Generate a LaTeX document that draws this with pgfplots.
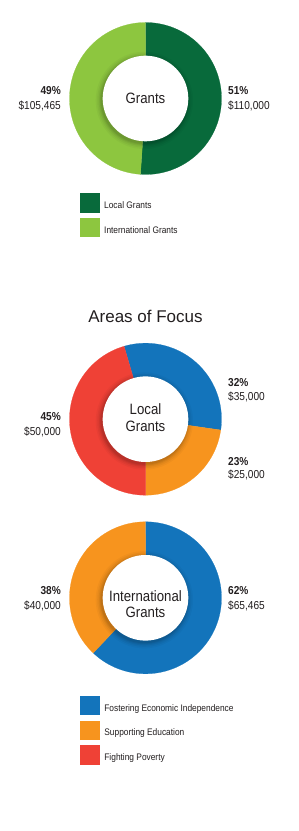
\documentclass[border=0pt]{standalone}
\usepackage{pgfplots}
\pgfplotsset{compat=1.18}
\usepackage{fontspec}
\setmainfont{Liberation Sans}[FakeStretch=0.88]
\newfontfamily\titlefont{Liberation Sans}

\definecolor{dgreen}{RGB}{8,106,59}
\definecolor{lgreen}{RGB}{141,198,63}
\definecolor{fblue}{RGB}{19,116,187}
\definecolor{forange}{RGB}{247,148,30}
\definecolor{fred}{RGB}{239,65,54}
\definecolor{txt}{RGB}{35,31,32}

% data (dollars)
\def\vLocal{110000}\def\vIntl{105465}
\def\lFost{35000}\def\lSupp{25000}\def\lFight{50000}
\def\iFost{65465}\def\iSupp{40000}

% angles, clockwise from the top
\edef\aOne{\fpeval{360*\vLocal/(\vLocal+\vIntl)}}
\edef\bSuppStart{\fpeval{180-360*\lSupp/(\lFost+\lSupp+\lFight)}}
\edef\bFostStart{\fpeval{\bSuppStart-360*\lFost/(\lFost+\lSupp+\lFight)}}
\edef\bFightEnd{\fpeval{\bFostStart+360}}
\edef\cOne{\fpeval{360*\iFost/(\iFost+\iSupp)}}

\newcommand{\slice}[3]{\addplot[fill=#1, draw=#1, line width=0.2pt, domain=#2:#3, samples=120, variable=\t] ({sin(t)},{cos(t)}) -- (axis cs:0,0) -- cycle;}
\newcommand{\ring}[2]{\addplot[forget plot, fill=black, fill opacity=#2, draw=none, domain=0:360, samples=150, variable=\t] ({-0.015+#1*sin(t)},{-0.025+#1*cos(t)}) -- cycle;}
\newcommand{\hole}{%
  \ring{0.64}{0.03}\ring{0.62}{0.04}\ring{0.60}{0.05}\ring{0.585}{0.06}\ring{0.572}{0.06}%
  \addplot[forget plot, fill=white, draw=none, domain=0:360, samples=150, variable=\t] ({0.563*sin(t)},{0.563*cos(t)}) -- cycle;}

\pgfplotsset{
  donut/.style={hide axis, scale only axis, width=152pt, height=152pt,
    xmin=-1, xmax=1, ymin=-1, ymax=1, clip=false, anchor=center,
    legend cell align=left,
    legend style={draw=none, fill=none, inner sep=0pt, outer sep=0pt, anchor=north west,
      row sep=6pt, column sep=5pt,
      nodes={inner sep=0pt, font=\fontsize{9.5}{11}\selectfont, text=txt}},
    legend image code/.code={\fill[##1] (0pt,-6pt) rectangle (19pt,12.4pt);}
  }
}

\begin{document}
\begin{tikzpicture}
\fill[white] (0,0) rectangle (298pt,831pt);
\path[use as bounding box] (0,0) rectangle (298pt,831pt);

% ---- Grants
\begin{axis}[donut, at={(145.5pt,732.5pt)}, legend style={at={(axis description cs:0.069,-0.124)}}]
\slice{dgreen}{0}{\aOne}
\addlegendentry{Local Grants}
\slice{lgreen}{\aOne}{360}
\addlegendentry{International Grants}
\hole
\end{axis}

% ---- Local grants (areas of focus)
\begin{axis}[donut, at={(145.5pt,411.8pt)}]
\slice{fblue}{\bFostStart}{\bSuppStart}
\slice{forange}{\bSuppStart}{180}
\slice{fred}{180}{\bFightEnd}
\hole
\end{axis}

% ---- International grants
\begin{axis}[donut, at={(145.5pt,233.2pt)}, legend style={at={(axis description cs:0.069,-0.146)}}]
\slice{fblue}{0}{\cOne}
\addlegendentry{Fostering Economic Independence}
\slice{forange}{\cOne}{360}
\addlegendentry{Supporting Education}
\hole
\addlegendimage{fill=fred, draw=fred}
\addlegendentry{Fighting Poverty}
\end{axis}

\begin{scope}[every node/.style={inner sep=0pt, text=txt}]
\def\pf{\fontsize{11.5}{13}\selectfont\bfseries}
\def\vf{\fontsize{11.5}{13}\selectfont}
\def\cf{\fontsize{15}{17}\selectfont}
% chart 1
\node[anchor=base west] at (228pt,736.7pt) {\pf 51\%};
\node[anchor=base west] at (228pt,721pt) {\vf \$110,000};
\node[anchor=base east] at (61pt,736.7pt) {\pf 49\%};
\node[anchor=base east] at (61pt,721pt) {\vf \$105,465};
\node[anchor=base] at (145.5pt,727.7pt) {\cf Grants};
% title
\node[anchor=base] at (145.5pt,508pt) {\titlefont\fontsize{17}{20}\selectfont Areas of Focus};
% chart 2
\node[anchor=base west] at (228pt,444.3pt) {\pf 32\%};
\node[anchor=base west] at (228pt,430pt) {\vf \$35,000};
\node[anchor=base west] at (228pt,365.3pt) {\pf 23\%};
\node[anchor=base west] at (228pt,352pt) {\vf \$25,000};
\node[anchor=base east] at (61pt,410pt) {\pf 45\%};
\node[anchor=base east] at (61pt,395.3pt) {\vf \$50,000};
\node[anchor=base] at (145.5pt,416pt) {\cf Local};
\node[anchor=base] at (145.5pt,399.3pt) {\cf Grants};
% chart 3
\node[anchor=base west] at (228pt,236.7pt) {\pf 62\%};
\node[anchor=base west] at (228pt,221.7pt) {\vf \$65,465};
\node[anchor=base east] at (61pt,236.7pt) {\pf 38\%};
\node[anchor=base east] at (61pt,221.7pt) {\vf \$40,000};
\node[anchor=base] at (145.5pt,229.3pt) {\cf International};
\node[anchor=base] at (145.5pt,213.3pt) {\cf Grants};
\end{scope}
\end{tikzpicture}
\end{document}
